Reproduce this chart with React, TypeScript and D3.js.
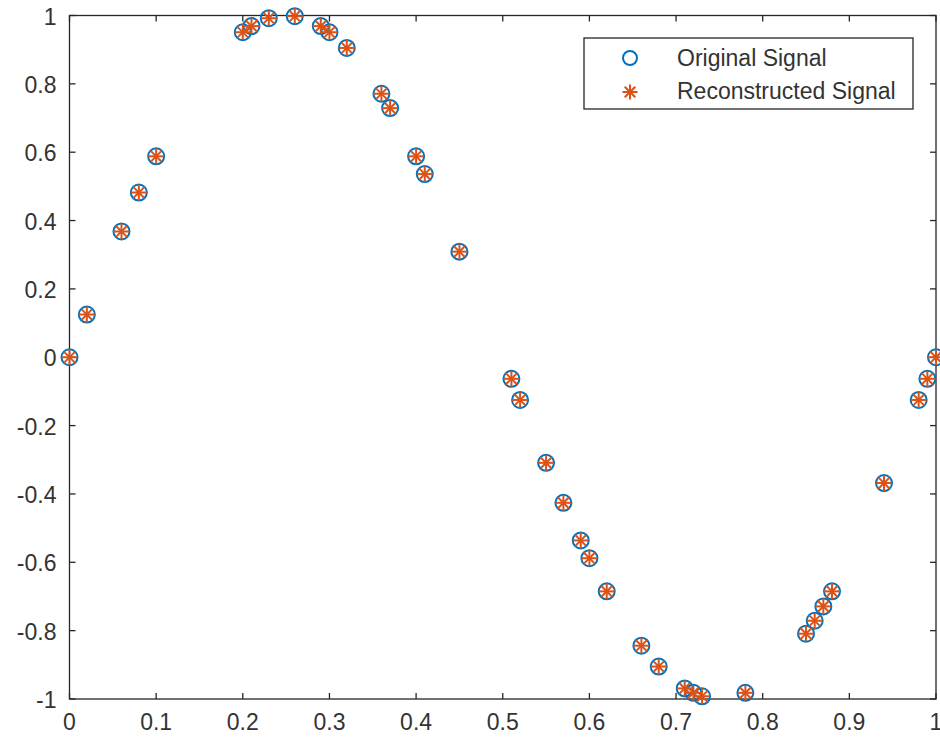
import React from "react";
import * as d3 from "d3";

const sampleT = [0, 0.02, 0.06, 0.08, 0.1, 0.2, 0.21, 0.23, 0.26, 0.29, 0.3, 0.32, 0.36, 0.37, 0.4, 0.41, 0.45, 0.51, 0.52, 0.55, 0.57, 0.59, 0.6, 0.62, 0.66, 0.68, 0.71, 0.72, 0.73, 0.78, 0.85, 0.86, 0.87, 0.88, 0.94, 0.98, 0.99, 1.0];
const originalSignal = [0, 0.125, 0.368, 0.482, 0.588, 0.951, 0.969, 0.992, 0.998, 0.969, 0.951, 0.905, 0.771, 0.729, 0.588, 0.536, 0.309, -0.063, -0.125, -0.309, -0.426, -0.536, -0.588, -0.685, -0.844, -0.905, -0.969, -0.982, -0.992, -0.982, -0.809, -0.771, -0.729, -0.685, -0.368, -0.125, -0.063, 0];
const reconstructedSignal = [0, 0.125, 0.368, 0.482, 0.588, 0.951, 0.969, 0.992, 0.998, 0.969, 0.951, 0.905, 0.771, 0.729, 0.588, 0.536, 0.309, -0.063, -0.125, -0.309, -0.426, -0.536, -0.588, -0.685, -0.844, -0.905, -0.969, -0.982, -0.992, -0.982, -0.809, -0.771, -0.729, -0.685, -0.368, -0.125, -0.063, 0];
const xTicks = [0, 0.1, 0.2, 0.3, 0.4, 0.5, 0.6, 0.7, 0.8, 0.9, 1];
const yTicks = [-1, -0.8, -0.6, -0.4, -0.2, 0, 0.2, 0.4, 0.6, 0.8, 1];
const legendLabels = ["Original Signal", "Reconstructed Signal"];

const W = 940;
const H = 744;
const L = 69.5, R = 936, T = 15.5, B = 699;
const AX = "#262626";
const TXT = "#333333";
const BLUE = "#0072BD";
const ORANGE = "#D95319";
const FONT = "'Liberation Sans', Arial, Helvetica, sans-serif";
const FS = 23;

const fmt = (v: number) => (v === 0 ? "0" : String(v));

function Star({ cx, cy, r }: { cx: number; cy: number; r: number }) {
  const d = r * Math.SQRT1_2;
  return (
    <g stroke={ORANGE} strokeWidth={2} strokeLinecap="butt">
      <line x1={cx - r} y1={cy} x2={cx + r} y2={cy} />
      <line x1={cx} y1={cy - r} x2={cx} y2={cy + r} />
      <line x1={cx - d} y1={cy - d} x2={cx + d} y2={cy + d} />
      <line x1={cx - d} y1={cy + d} x2={cx + d} y2={cy - d} />
    </g>
  );
}

export default function App() {
  const x = d3.scaleLinear().domain([0, 1]).range([L, R]);
  const y = d3.scaleLinear().domain([-1, 1]).range([B, T]);
  const tl = 6;

  return (
    <svg
      width={W}
      height={H}
      style={{ position: "absolute", left: 0, top: 0, background: "#fff" }}
      fontFamily={FONT}
    >
      <rect x={0} y={0} width={W} height={H} fill="#fff" />
      <g stroke={AX} strokeWidth={1.3}>
        {xTicks.map((t) => (
          <g key={"xt" + t}>
            <line x1={x(t)} x2={x(t)} y1={B} y2={B - tl} />
            <line x1={x(t)} x2={x(t)} y1={T} y2={T + tl} />
          </g>
        ))}
        {yTicks.map((t) => (
          <g key={"yt" + t}>
            <line x1={L} x2={L + tl} y1={y(t)} y2={y(t)} />
            <line x1={R} x2={R - tl} y1={y(t)} y2={y(t)} />
          </g>
        ))}
      </g>
      <rect x={L} y={T} width={R - L} height={B - T} fill="none" stroke={AX} strokeWidth={1.3} />
      <g fill={TXT} fontSize={FS}>
        {xTicks.map((t) => (
          <text key={"xl" + t} x={x(t)} y={B + 25} textAnchor="middle" dominantBaseline="middle">
            {fmt(t)}
          </text>
        ))}
        {yTicks.map((t) => (
          <text key={"yl" + t} x={L - 13} y={y(t) + 3} textAnchor="end" dominantBaseline="middle">
            {fmt(t)}
          </text>
        ))}
      </g>
      <g fill="none" stroke={BLUE} strokeWidth={2}>
        {sampleT.map((t, i) => (
          <circle key={"c" + i} cx={x(t)} cy={y(originalSignal[i])} r={8} />
        ))}
      </g>
      <g>
        {sampleT.map((t, i) => (
          <Star key={"s" + i} cx={x(t)} cy={y(reconstructedSignal[i])} r={8} />
        ))}
      </g>
      <g>
        <rect x={584} y={38} width={329} height={71} fill="#fff" stroke={AX} strokeWidth={1.3} />
        <circle cx={630} cy={58} r={7} fill="none" stroke={BLUE} strokeWidth={2} />
        <Star cx={630} cy={92} r={7.5} />
        <text x={677} y={60} fontSize={FS} fill={TXT} dominantBaseline="middle">
          {legendLabels[0]}
        </text>
        <text x={677} y={93} fontSize={FS} fill={TXT} dominantBaseline="middle">
          {legendLabels[1]}
        </text>
      </g>
    </svg>
  );
}
